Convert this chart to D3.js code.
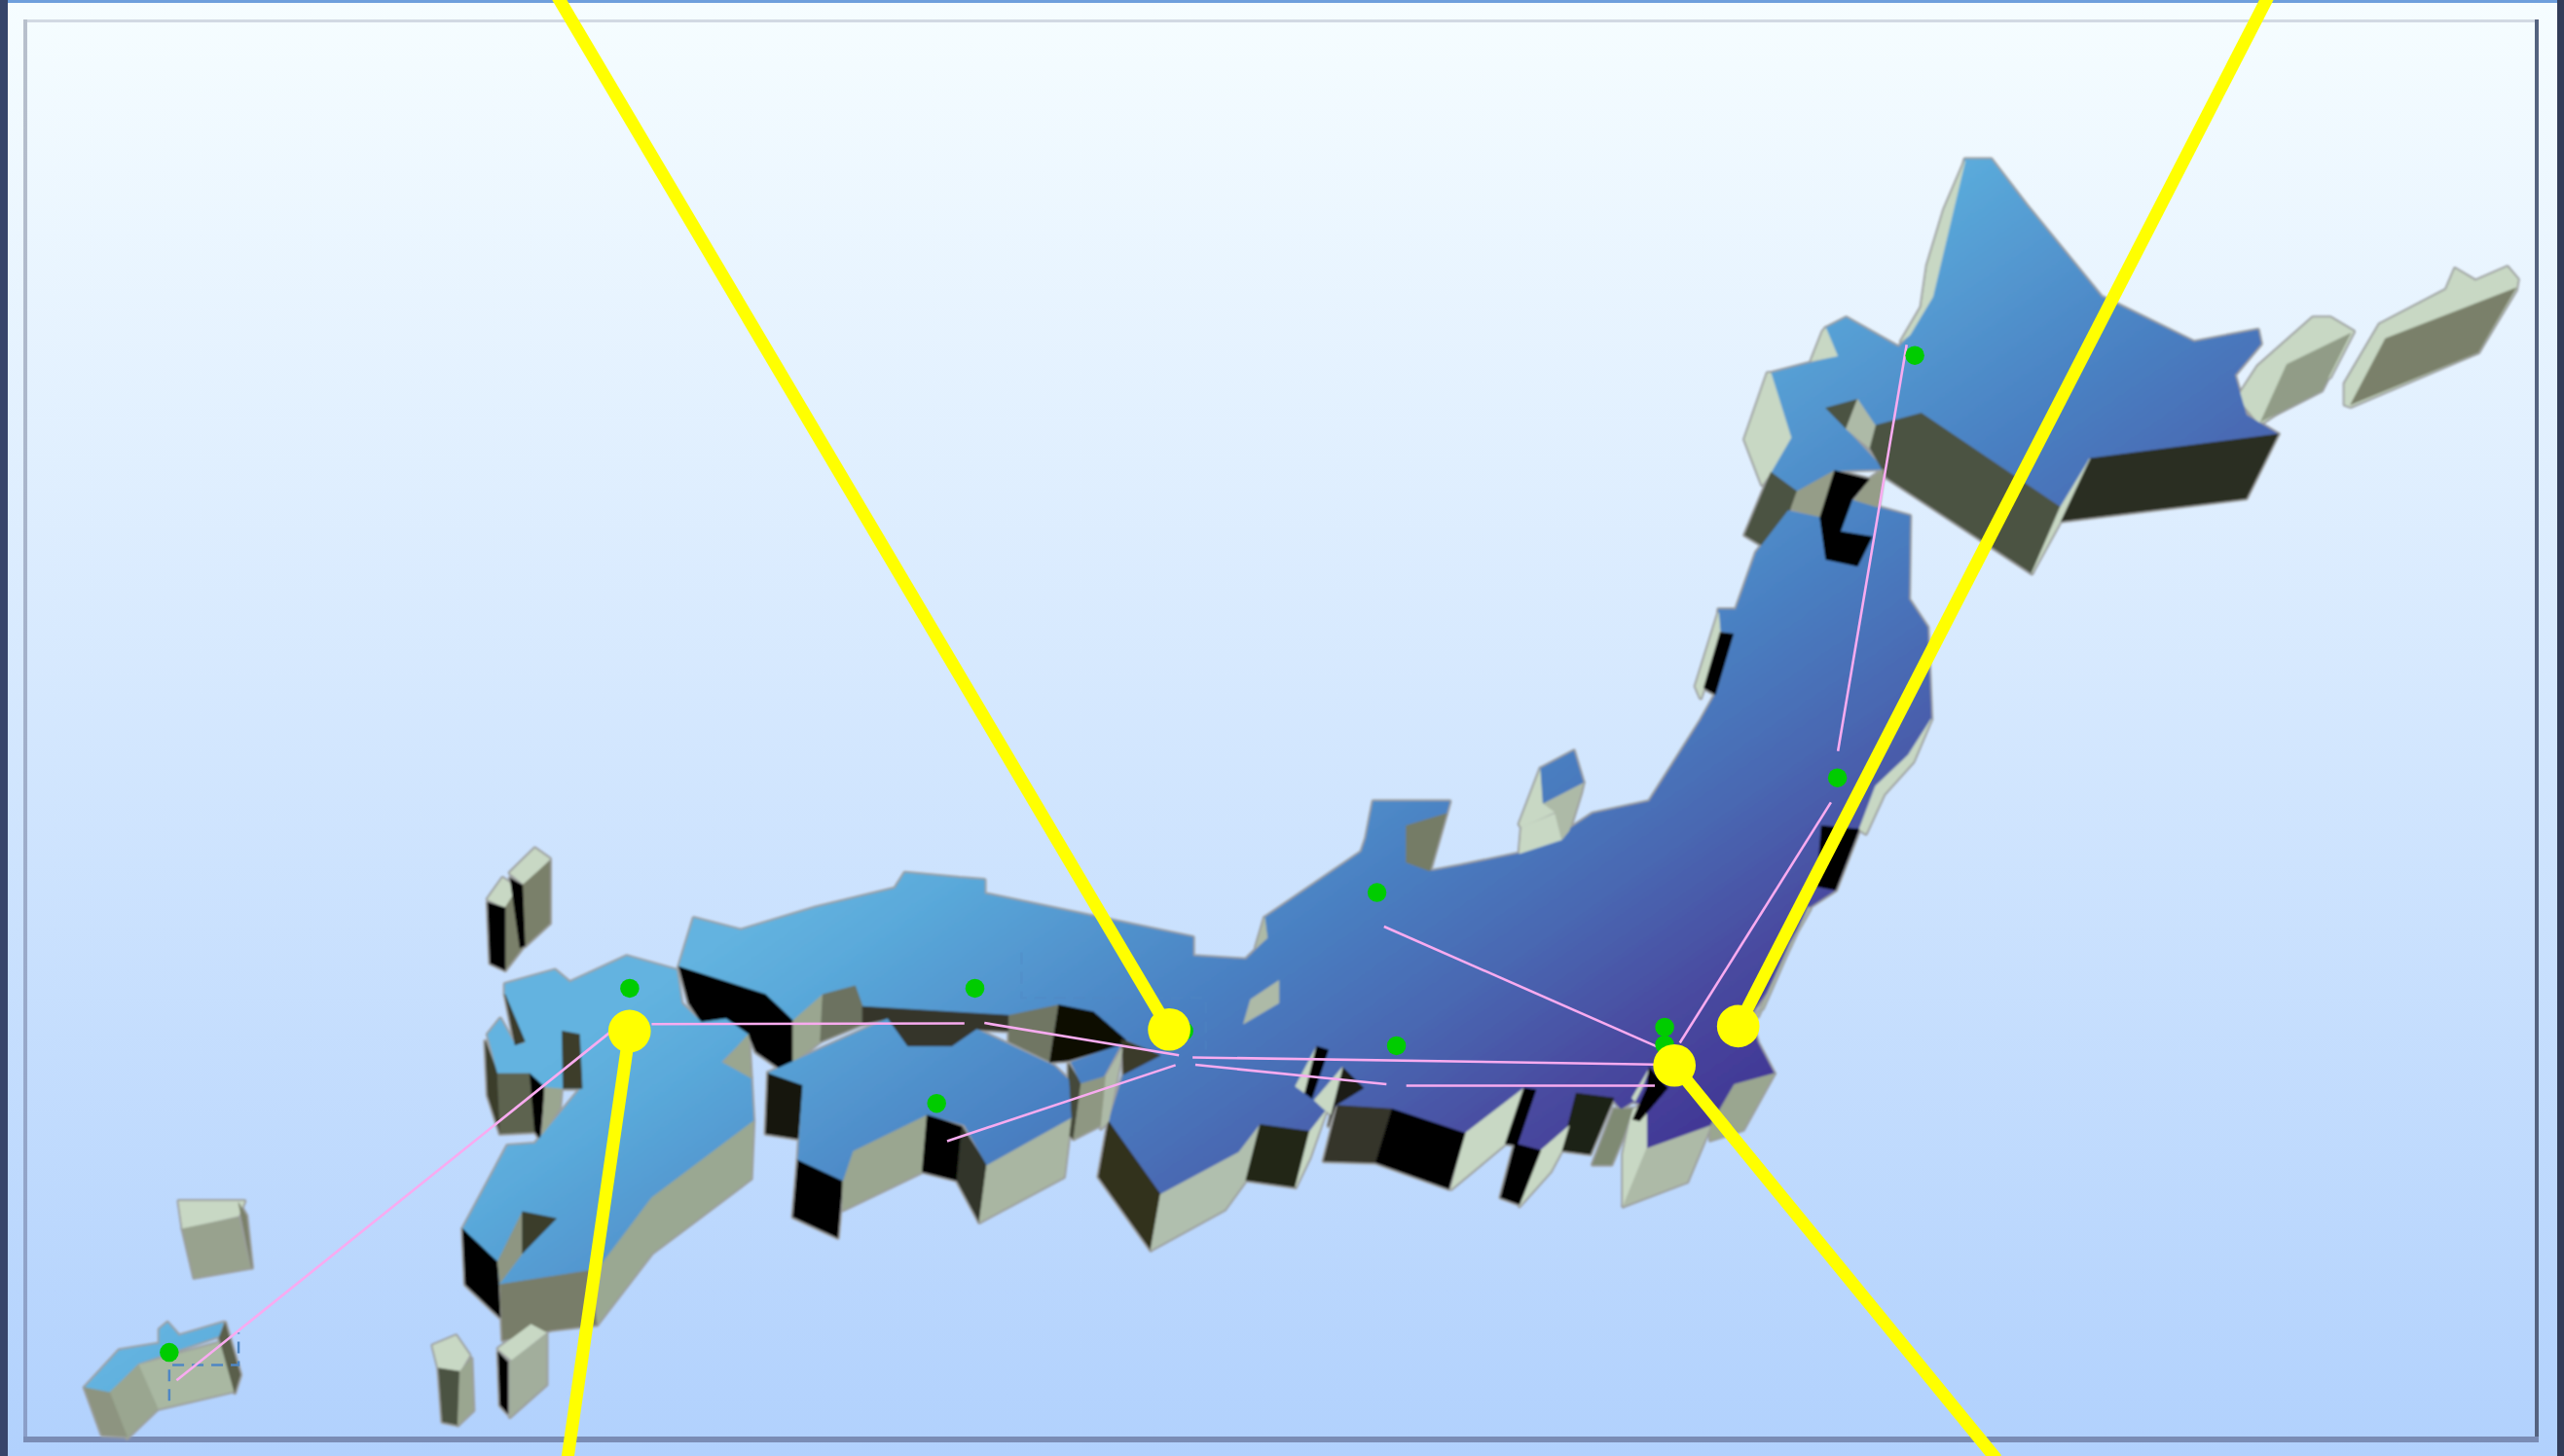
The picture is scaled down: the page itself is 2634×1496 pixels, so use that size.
<!DOCTYPE html>
<html>
<head>
<meta charset="utf-8">
<script src="https://d3js.org/d3.v7.min.js"></script>
<style>
  html, body { margin: 0; padding: 0; background: #fff; overflow: hidden; }
  svg { display: block; }
</style>
</head>
<body>
<div id="chart"></div>
<script>
const width = 2634, height = 1496;

// map outline points (picture units, 1568 x 891)
// Hokkaido
const hokkaidoTop = [[1201.7,97.6],[1217.7,97.6],[1239,125.3],[1285,181.6],[1294,185.9],[1341.8,209.3],[1380.8,201.9],[1382.6,210.4],[1366.6,229.5],[1373.7,254],[1393.2,265.7],[1278,280.6],[1260,310.4],[1175,252.9],[1146.8,260.4],[1136,244.4],[1116.6,249.7],[1129,262.5],[1152,287],[1122,288],[1099,300.8],[1083,289],[1095.3,267.8],[1083,228.4],[1123.7,217.8],[1116.6,200.8],[1129,194.4],[1161,212.5],[1168,205],[1182,181.6]];
const hokkaidoWest = [[1201.7,98.6],[1189,128.4],[1178.7,162.5],[1175,188],[1162.7,209],[1168,205],[1182,181.6]];
const hokkaidoNook = [[1107.7,221],[1114.8,203],[1116.6,200.8],[1123.7,217.8]];
const hokkaidoSouth = [[1175,252.9],[1260,310.4],[1258.5,313.5],[1242.5,350.8],[1153.8,292.3],[1143,273],[1146.8,260.4]];
const hokkaidoEast = [[1278,280.6],[1393.2,265.7],[1373.7,305],[1260,318.9]];
const hokkaidoSliver = [[1278,280.6],[1260,310.4],[1242.5,350.8],[1260,318.9]];
const oshimaWest = [[1083,228.4],[1095.3,267.8],[1083,289],[1077.6,296.5],[1067,268.9],[1081,228.4]];
const oshimaDark = [[1083,289],[1099,300.8],[1084.7,338],[1067,327.4]];
const oshimaMid = [[1099,300.8],[1122,288],[1113,316.7],[1095.3,311.4]];
const oshimaMid2 = [[1143.2,293.3],[1152,287],[1148.5,310.4],[1134.3,306]];
const oshimaHoleDark = [[1116.6,249.7],[1136,244.4],[1129,262.5]];
const oshimaHoleLight = [[1136,244.4],[1146.8,260.4],[1143.2,274],[1129,262.5]];
const mutsuBlack = [[1122,288],[1143.2,293.3],[1132.6,306],[1125.5,325.3],[1145,328.5],[1136,346.5],[1116.6,342.3],[1113,316.7]];
// Kuril islands
const kunashiriSide = [[1368.4,243.3],[1380.8,224.2],[1414.5,194.4],[1425,194.4],[1439.3,202.9],[1425,230.6],[1384.3,258.2],[1380.8,258.2]];
const kunashiriFace = [[1398.5,223],[1437.5,204],[1419.8,239],[1382.6,258]];
const etorofuSide = [[1434,247.6],[1434,234.8],[1455.3,198.6],[1496,177.4],[1501.4,164.6],[1513.8,172],[1533.3,163.5],[1539.7,171],[1538.6,177.4],[1515.5,215.6],[1437.5,248.7]];
const etorofuFace = [[1437.5,247.6],[1458.8,207.2],[1538.6,176.3],[1515.5,215.6]];
// Honshu
const honshuTop = [[1093.6,312.5],[1113,316.7],[1132.6,306],[1148.5,310.4],[1168,315.7],[1167.3,366.7],[1178.7,383.8],[1181,440],[1167,462],[1147,481],[1137,507.5],[1122.6,544.7],[1106.7,555],[1095,576.6],[1080,608],[1070,622],[1075,638],[1085,657],[1060.6,663.7],[1046,689],[1007,703],[1007,676.5],[998.5,674],[991.3,678.6],[985.5,672],[964,669],[959.5,689],[942.2,704],[926.4,699.8],[939,667],[932,665.8],[896,693.5],[851.3,678.6],[818,676.5],[810.4,679.7],[800.9,692.4],[770.6,688.2],[757.6,705.2],[709.7,730.9],[677.9,686.2],[687,657.5],[709.7,645.8],[688.5,636.3],[668.8,619.3],[647.5,615],[617,621.4],[527.5,616],[503.2,608.6],[485,624.6],[468.3,608.6],[415.2,591.6],[424.3,561.9],[453,569.3],[498.7,555.5],[547.3,543.8],[553.4,534.2],[586.8,537.4],[602,538.5],[602,547],[662.7,559.7],[729.5,573.6],[729.5,585.2],[761.9,587.2],[774.9,574.4],[773.4,561.7],[832.6,521.3],[835.5,512.8],[839.8,490.5],[886.5,490.5],[884.5,497.9],[860,505.3],[860,527.7],[875.9,533],[893.2,529.8],[929.2,522.3],[945,517],[974,497.9],[1008.6,490.5],[1040.3,440.5],[1049,425],[1060,388],[1051,386],[1051,373],[1061.6,373],[1074,338]];
const ogaBlack = [[1052,387],[1060,388],[1049,425],[1042,421]];
const ogaLight = [[1037,420],[1051,375],[1052,387],[1042,421],[1040,427]];
const sanrikuSide = [[1181,440],[1167,462],[1147,481],[1137,507.5],[1141,510],[1152,486],[1170,466]];
const sanrikuBlack = [[1113.9,505.3],[1137,507.5],[1122.6,544.7],[1111,542.5]];
const ibarakiSide = [[1106,555],[1092,585],[1078,617],[1072,623],[1075,622],[1095,577],[1107,556]];
const bosoLight = [[1007,676.5],[1007,703],[992.7,738],[992.7,706],[998.5,678.6]];
const bosoMid = [[1007,703],[1046,689],[1031.7,723.2],[992.7,738]];
const bosoDark = [[1060.6,663.7],[1085,657],[1066,691.3],[1046,697.7],[1046,689]];
const bayBlack = [[1008.6,653],[1020,665.8],[1002.8,686],[998.5,685],[1007,666]];
const bayLight = [[998,672],[1008.6,654],[1004,666],[999.9,674]];
const izuDark = [[963.9,669],[987,672],[972.5,706.3],[955,704]];
const izuGrey = [[987,678.6],[998.5,678.6],[992.7,695.6],[985.5,712.6],[974,712.6]];
const enshuLight = [[942.2,704],[959.5,689],[955,704],[948,717],[929.2,738]];
const atsumiBlack = [[926.4,699.8],[942.2,704],[929.2,737],[917.7,732.8]];
const chitaBlack = [[932,665.8],[939.3,667],[927.8,700.9],[920.6,699.8]];
const totomiLight = [[896,693.5],[932,665.8],[920.6,699.8],[887.4,727.5]];
const kumanoBlack = [[851.3,678.6],[896,693.5],[886,727.5],[841.3,711.5]];
const kumanoBrown = [[818,676.5],[851.3,678.6],[841.3,711.5],[809.5,710.5]];
const iseBlack = [[821,653],[834,665.8],[816.7,676.5],[812.4,689]];
const iseStripe = [[805.2,640.3],[812.4,642.5],[802.3,672.2],[798,669]];
const iseLight = [[792.2,664.8],[805.2,640.3],[798,669]];
const iseLight2 = [[803.7,673.3],[813.8,661.6],[821,653],[813.8,681.8],[809.5,678.6]];
const kiiGreen = [[770.6,688.2],[800.9,692.4],[792.2,726.5],[761.9,722.2]];
const kiiLight = [[800.9,692.4],[810.9,679.7],[800.9,708.3],[792.2,726.5]];
const kiiWest = [[677.9,686.2],[709.7,730.9],[703.7,764.9],[671.8,720.2]];
const kiiSouth = [[709.7,730.9],[757.6,705.2],[770.6,688.2],[761.9,722.2],[749,740],[703.7,764.9]];
const notoFace = [[860,505.3],[884.5,497.9],[874.4,533],[860,527.7]];
const biwaLake = [[760.5,626.5],[764.8,611.6],[782.1,600],[782.1,613.8]];
const wakasaNook = [[773.4,561.7],[775,574],[768,580]];
const sadoTop = [[942.2,470.3],[962.4,459.6],[968.2,478.8],[943.7,491.5]];
const sadoLow = [[930.6,506.4],[950.9,497.9],[955.2,513.8],[929.2,522.3]];
const sadoMid = [[943.7,491.5],[968.2,478.8],[966.8,485],[959.5,508.5],[955.2,513.8],[950.9,496.8]];
const sadoLeft = [[942.2,470.3],[943.7,491.5],[950.9,496.8],[930.6,506.4],[929.2,504.3]];
// Inland sea coast of Honshu
const sanyoBlack = [[415.2,591.6],[468.3,608.6],[485,624.6],[485,652.2],[477.4,654.3],[462.2,643.7],[457.7,633],[444,623.5],[428.9,625.6],[421.3,614]];
const sanyoLight = [[485,624.6],[503.2,608.6],[501.7,637.3],[485,650]];
const sanyoMid = [[503.2,608.6],[523,603.3],[527.5,616],[527.5,626.7],[501.7,637.3]];
const sanyoBrown = [[527.5,616],[617,621.4],[617,631],[597.4,630],[582.2,640.5],[554.9,640.5],[542.7,623.5],[527.5,626.7]];
const harimaMid = [[617,621.4],[647.5,615],[643,650],[617,637.3]];
const harimaBlack = [[647.5,615],[668.8,619.3],[688.5,636.3],[685.4,639.5],[653.5,649],[642,650]];
const osakaDark = [[686,636],[709.7,645.8],[687,657.5]];
// Awaji
const awajiTop = [[655,650],[685.4,639.5],[675,658.6],[661,662.8]];
const awajiFace = [[661.2,662.8],[676.4,658.6],[673.3,688.4],[656.6,696.9]];
const awajiDark = [[653.5,651],[661.2,662.8],[656.6,696.9],[653.5,694.7]];
const awajiLight = [[676.4,658.6],[686.4,641.6],[677.9,686.2],[673.3,690.5]];
// Shikoku
const shikokuTop = [[469.8,656.5],[542.7,623.5],[554.9,640.5],[582.2,640.5],[597.4,630],[644.5,652.2],[653.5,660.7],[655,684],[603.5,712.8],[589.8,688.3],[567,682],[521.5,704.3],[515.4,722.4],[488,709.6],[491,663.9]];
const shikokuWest = [[469.8,656.5],[491,663.9],[488,696.8],[468.3,693.7]];
const shikokuBlack = [[488,709.6],[515.4,722.4],[512.3,757.4],[485,744.7]];
const shikokuLight = [[521.5,704.3],[567,682],[564,717],[515.4,740.4],[515.4,722.4]];
const tosaBlack = [[567,682],[588.3,689.4],[585.2,722.4],[564,717]];
const tosaGreen = [[588.3,689.4],[603.5,712.8],[598.9,747.9],[585.2,722.4]];
const shikokuEast = [[603.5,712.8],[655,684],[650.5,720.2],[598.9,747.9]];
// Kyushu
const kyushuTop = [[308.9,602.2],[339.3,593.7],[348.4,601.2],[383.3,585.2],[413.7,593.7],[416.7,614],[428.9,625.6],[444,623.5],[457.7,633.1],[441,650],[459.2,659.6],[460.7,686.2],[398.5,733],[365,777.6],[305.9,786.1],[304.3,772.3],[283,752.1],[310.4,701.1],[327.1,700],[354.4,667],[356,666],[344,666],[333.2,665],[324,656.5],[304.3,656.5],[298.3,633],[305.9,623.5],[315,639.5],[321,638.4],[308.9,608.6]];
const kyushuNook = [[442.5,650],[457.7,633],[459.2,659.6]];
const kyushuEast = [[460.7,686.2],[398.5,733],[365,777.6],[365,810.6],[398.5,767],[459.2,721.3]];
const kyushuSouth = [[305.9,786.1],[360.5,777.6],[365,810.6],[337.7,813.8],[307.4,820.1]];
const kyushuBlack = [[283,752.1],[304.3,772.3],[305.9,806.3],[284.6,786.1]];
const kagoshimaDark = [[319.5,741.5],[340.2,745.7],[319.5,767]];
const kagoshimaMid = [[319.5,741.5],[319.5,767],[305.9,785],[304.3,772.3]];
const nagasakiBox = [[304.3,656.5],[324,656.5],[327.1,692.6],[305.9,693.7]];
const nagasakiDark = [[296.8,637.3],[304.3,656.5],[305.9,693.7],[298.3,670.3]];
const nagasakiBlack = [[324,656.5],[333.2,665],[330.2,696.8],[327.1,692.6]];
const nagasakiLight = [[333.2,665],[343.8,659.6],[342.3,677.7],[331.7,694.7]];
const ariakeDark = [[343.8,631],[354.4,633],[356,666],[344.4,666]];
const imariDark = [[308.9,608.6],[321,637.3],[315,639.5]];
// Tsushima
const tsushimaTop = [[311.9,534.2],[327.1,519.3],[336.2,525.7],[321,541.7]];
const tsushimaFace = [[319.5,541.7],[336.2,526.8],[336.2,565],[321,578.9]];
const tsushimaTop2 = [[298.3,550.2],[307.4,537.4],[316.5,543.8],[308.9,555.5]];
const tsushimaBlack = [[298.3,552.3],[308.9,555.5],[308.9,593.7],[299.8,589.5]];
const tsushimaMid = [[308.9,555.5],[316.5,543.8],[319.5,580],[308.9,593.7]];
const tsushimaStripe = [[312,537.4],[319.5,541.7],[321,578.9],[318,580]];
// southern islands
const amamiTop = [[109.4,735.1],[149.4,735.1],[145.9,744],[111.8,752]];
const amamiFace = [[111.8,752],[145.9,745],[153,775.8],[118.8,781.8]];
const amamiEdge = [[145.9,736],[150.6,744],[154,775.8]];
const okinawaTop = [[51.8,849.2],[72.9,826.4],[97.6,822.4],[97.6,813.5],[102.4,809.5],[109.4,817.5],[136.5,809.5],[134,817.5],[84.7,834.3],[67,852.2]];
const okinawaFace = [[84.7,835.3],[135.3,821.4],[143.5,851.2],[96.5,862.1]];
const okinawaMid = [[67,852.2],[84.7,835.3],[96.5,862.1],[77.6,880]];
const okinawaWest = [[51.8,849.2],[67,852.2],[77.6,879],[62.4,878]];
const okinawaEast = [[137.6,809.5],[147,841.3],[143.5,852.2],[134,818.5]];
const yakuTop = [[264.7,823.4],[278.8,817.5],[287,829.4],[281.2,839.3],[268.2,837.3]];
const yakuDark = [[268.2,837.3],[281.2,839.3],[280,872],[270.6,870]];
const yakuLight = [[281.2,839.3],[288.2,831.4],[289.4,863.1],[280,872]];
const taneTop = [[304.7,825.4],[324.7,810.5],[334.1,815.5],[312.9,832.4]];
const taneFace = [[311.8,833.4],[334.1,816.5],[334.1,847.2],[311.8,867]];
const taneBlack = [[304.7,827.4],[310.6,833.4],[310.6,865],[305.9,860]];

// stations, routes
const hubs = [[715,630],[1063,628],[385,631],[1024,652]];
const hubRays = [[[341,-2],[715,630]],[[1387,-2],[1063,628]],[[347,893],[385,631]],[[1221,893],[1024,652]]];
const cities = [[1171,217.5],[1123.7,476],[842.1,546.2],[854,639.9],[1018,628.6],[1018,639.3],[724,631],[385.1,604.8],[596.2,604.8],[572.8,675.2],[103.5,827.6]];
const routes = [
  [[1166,211],[1124,459.6]],
  [[1119.7,491],[1027.3,638.2]],
  [[846.4,567],[1013,640.3]],
  [[729.3,647.1],[1011.5,651.4]],
  [[731,651.6],[847.9,663.5]],
  [[860,664.4],[1012,664.4]],
  [[602,626],[721,645.8]],
  [[398.5,626.7],[589.8,626.3]],
  [[579.2,698.3],[718.9,651.8]],
  [[108,844.7],[372.7,632]]
];
const insetOkinawa = [[103.5,857.2],[103.5,835.3],[145.9,835.3],[145.9,815.5]];
const insetKinki = [[624.7,583],[624.7,610.7],[737.4,610.7],[737.4,642.5]];

// shades of the extruded sides
const pale = "#c8d8c4", sage = "#adbaa7", moss = "#9aa690", olive = "#7a806a", slate = "#4c5342", ink = "#2b2f22", brown = "#35352a", black = "#040402";

const faces = [
  [kunashiriSide, pale], [kunashiriFace, "#919c87"],
  [etorofuSide, pale], [etorofuFace, olive],
  [hokkaidoTop, "blue"], [hokkaidoWest, pale], [hokkaidoNook, pale], [hokkaidoSouth, slate], [hokkaidoEast, ink], [hokkaidoSliver, pale],
  [oshimaWest, pale], [oshimaDark, slate], [oshimaMid, "#959d88"], [oshimaHoleDark, slate], [oshimaHoleLight, sage],
  [honshuTop, "blue"], [oshimaMid2, "#959d88"], [mutsuBlack, black],
  [ogaLight, pale], [ogaBlack, black], [sanrikuSide, pale], [sanrikuBlack, black], [ibarakiSide, sage],
  [bosoLight, pale], [bosoMid, sage], [bosoDark, moss], [bayLight, pale], [bayBlack, black],
  [izuGrey, "#7f8a73"], [izuDark, "#1d2214"], [enshuLight, pale], [atsumiBlack, black], [totomiLight, pale], [chitaBlack, black],
  [kumanoBrown, brown], [kumanoBlack, black], [iseLight, pale], [iseStripe, black], [iseBlack, "#1d1d12"], [iseLight2, pale],
  [kiiWest, "#33301f"], [kiiSouth, "#b0bfae"], [kiiGreen, "#222617"], [kiiLight, pale],
  [notoFace, "#757c66"], [biwaLake, sage], [wakasaNook, sage],
  [sadoLeft, pale], [sadoLow, pale], [sadoMid, sage], [sadoTop, "blue"],
  [sanyoBlack, black], [sanyoLight, moss], [sanyoMid, "#6c7260"], [sanyoBrown, brown], [harimaMid, "#6f7663"], [harimaBlack, "#0a0905"], [osakaDark, "#3b3a2a"],
  [awajiDark, "#45493a"], [awajiFace, "#8e9782"], [awajiLight, sage], [awajiTop, "blue"],
  [shikokuWest, "#16150a"], [shikokuBlack, black], [shikokuLight, moss], [tosaBlack, black], [tosaGreen, "#30352a"], [shikokuEast, "#a9b6a2"], [shikokuTop, "blue"],
  [nagasakiDark, "#3a3c2c"], [nagasakiBox, "#5d6350"], [nagasakiBlack, black], [nagasakiLight, moss],
  [kyushuTop, "blue"], [ariakeDark, "#3c3c2c"], [imariDark, "#3a3a2c"], [kyushuNook, moss], [kyushuEast, "#9aa892"], [kyushuSouth, "#787d69"], [kyushuBlack, black], [kagoshimaMid, "#8e9682"], [kagoshimaDark, "#3a3c2c"],
  [tsushimaTop, pale], [tsushimaFace, olive], [tsushimaTop2, pale], [tsushimaMid, olive], [tsushimaBlack, black], [tsushimaStripe, black],
  [amamiTop, pale], [amamiFace, "#98a28e"], [amamiEdge, olive],
  [okinawaTop, "blue"], [okinawaFace, "#a9b8a2"], [okinawaMid, moss], [okinawaWest, "#8d9480"], [okinawaEast, "#5a5e4b"],
  [yakuTop, pale], [yakuDark, slate], [yakuLight, moss],
  [taneTop, pale], [taneFace, "#a2ae9c"], [taneBlack, black]
];

const x = d3.scaleLinear().domain([0, 1568]).range([0, width]);
const y = d3.scaleLinear().domain([0, 891]).range([0, height]);
const r = d3.scaleLinear().domain([0, 1568]).range([0, width]);

const ring = d3.line().x(d => x(d[0])).y(d => y(d[1])).curve(d3.curveLinearClosed);
const open = d3.line().x(d => x(d[0])).y(d => y(d[1]));

const svg = d3.select("#chart").append("svg")
  .attr("width", width)
  .attr("height", height);

const defs = svg.append("defs");

const sky = defs.append("linearGradient").attr("id", "sky")
  .attr("x1", 0).attr("y1", 0).attr("x2", 0).attr("y2", 1);
sky.append("stop").attr("offset", 0).attr("stop-color", "#f6fdff");
sky.append("stop").attr("offset", 1).attr("stop-color", "#b1d1fd");

// the land colour runs across the whole country, not island by island
const land = defs.append("linearGradient").attr("id", "land")
  .attr("gradientUnits", "userSpaceOnUse")
  .attr("x1", x(414.7)).attr("y1", y(594.4))
  .attr("x2", x(664)).attr("y2", y(952));
land.append("stop").attr("offset", 0).attr("stop-color", "#63b3e0");
land.append("stop").attr("offset", 0.12).attr("stop-color", "#5aa9da");
land.append("stop").attr("offset", 0.45).attr("stop-color", "#4a80c2");
land.append("stop").attr("offset", 0.65).attr("stop-color", "#4a68b2");
land.append("stop").attr("offset", 0.85).attr("stop-color", "#48499f");
land.append("stop").attr("offset", 1).attr("stop-color", "#423896");

defs.append("filter").attr("id", "soft")
  .append("feGaussianBlur").attr("stdDeviation", 1.2);

// background and frame
svg.append("rect").attr("width", width).attr("height", height).attr("fill", "url(#sky)");

const leftShade = defs.append("linearGradient").attr("id", "leftShade")
  .attr("x1", 0).attr("y1", 0).attr("x2", 0).attr("y2", 1);
leftShade.append("stop").attr("offset", 0).attr("stop-color", "#b8c0cc");
leftShade.append("stop").attr("offset", 1).attr("stop-color", "#8a9ec8");

svg.append("rect").attr("x", 24).attr("y", 20).attr("width", 2584).attr("height", 3).attr("fill", "#d2d9e3");
svg.append("rect").attr("x", 24).attr("y", 20).attr("width", 4).attr("height", 1462).attr("fill", "url(#leftShade)");
svg.append("rect").attr("x", 2604).attr("y", 20).attr("width", 4).attr("height", 1462).attr("fill", "#55637f");
svg.append("rect").attr("x", 24).attr("y", 1476).attr("width", 2584).attr("height", 6).attr("fill", "#7a8cb4");
svg.append("rect").attr("x", 0).attr("y", 0).attr("width", width).attr("height", 3).attr("fill", "#6f9fdc");
svg.append("rect").attr("x", 0).attr("y", 0).attr("width", 8).attr("height", height).attr("fill", "#37456a");
svg.append("rect").attr("x", width - 7).attr("y", 0).attr("width", 7).attr("height", height).attr("fill", "#323c58");

const map = svg.append("g").attr("filter", "url(#soft)");

// grey rim round the silhouette, then the faces over it
map.selectAll("path.rim").data(faces).enter().append("path")
  .attr("class", "rim")
  .attr("d", d => ring(d[0]))
  .attr("fill", "#9b9e9e")
  .attr("stroke", "#9b9e9e")
  .attr("stroke-width", 4.5)
  .attr("stroke-linejoin", "round");

const fillOf = d => d[1] == "blue" ? "url(#land)" : d[1];

map.selectAll("path.face").data(faces).enter().append("path")
  .attr("class", "face")
  .attr("d", d => ring(d[0]))
  .attr("fill", fillOf)
  .attr("stroke", fillOf)
  .attr("stroke-width", 0.8)
  .attr("stroke-linejoin", "round");

// faint dashed inset boxes
svg.selectAll("path.inset").data([insetOkinawa, insetKinki]).enter().append("path")
  .attr("class", "inset")
  .attr("d", open)
  .attr("fill", "none")
  .attr("stroke", "#4f87c4")
  .attr("stroke-width", 2.5)
  .attr("stroke-dasharray", "12,8")
  .attr("opacity", (d, i) => i == 0 ? 1 : 0.35);

svg.selectAll("path.route").data(routes).enter().append("path")
  .attr("class", "route")
  .attr("d", open)
  .attr("fill", "none")
  .attr("stroke", "#f8abf0")
  .attr("stroke-width", 2.6);

svg.selectAll("circle.city").data(cities).enter().append("circle")
  .attr("class", "city")
  .attr("cx", d => x(d[0]))
  .attr("cy", d => y(d[1]))
  .attr("r", r(5.8))
  .attr("fill", "#00cc00");

svg.selectAll("path.ray").data(hubRays).enter().append("path")
  .attr("class", "ray")
  .attr("d", open)
  .attr("fill", "none")
  .attr("stroke", "#ffff00")
  .attr("stroke-width", 13);

svg.selectAll("circle.hub").data(hubs).enter().append("circle")
  .attr("class", "hub")
  .attr("cx", d => x(d[0]))
  .attr("cy", d => y(d[1]))
  .attr("r", r(13))
  .attr("fill", "#ffff00");
</script>
</body>
</html>
